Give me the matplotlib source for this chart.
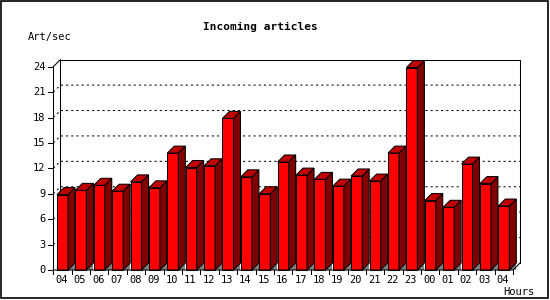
import matplotlib
matplotlib.use("Agg")
import matplotlib.pyplot as plt
from matplotlib.patches import Polygon, Rectangle

# hourly incoming article rate
hours = ["04", "05", "06", "07", "08", "09", "10", "11", "12", "13", "14", "15", "16",
         "17", "18", "19", "20", "21", "22", "23", "00", "01", "02", "03", "04"]
rates = [8.9, 9.4, 10.0, 9.3, 10.4, 9.7, 13.8, 12.1, 12.3, 17.9, 11.0, 9.0, 12.75,
         11.2, 10.7, 9.9, 11.1, 10.5, 13.8, 23.9, 8.2, 7.4, 12.5, 10.2, 7.55]
yticks = [0, 3, 6, 9, 12, 15, 18, 21, 24]

W, H = 550, 300
fig = plt.figure(figsize=(W / 100, H / 100), dpi=100)
fig.patch.set_facecolor("white")

# plot area in pixels: x 53..513, y 270..66.7
x0, x1, ybot, ytop = 53.3, 513.0, 270.0, 66.7
ax = fig.add_axes([x0 / W, (H - ybot) / H, (x1 - x0) / W, (ybot - ytop) / H])
n = len(hours)
ymax = 24
ax.set_xlim(0, n)
ax.set_ylim(0, ymax)
ax.axis("off")

px_x = n / (x1 - x0)
px_y = ymax / (ybot - ytop)
dx, dy = 7 * px_x, 7 * px_y
lw = 0.75
mono = "DejaVu Sans Mono"

# dotted gridlines on the back wall
for v in yticks[1:-1]:
    ax.plot([0, dx, n + dx], [v, v + dy, v + dy], color="black", lw=lw,
            ls=(0, (2, 3)), clip_on=False, zorder=1)

# back wall frame
ax.plot([dx, dx, n + dx, n + dx], [dy, ymax + dy, ymax + dy, dy], color="black",
        lw=lw, clip_on=False, zorder=1)
ax.plot([0, dx], [ymax, ymax + dy], color="black", lw=lw, clip_on=False, zorder=1)

# bars
bw = 11 * px_x
for i, v in enumerate(rates):
    l = i + 0.5 - bw / 2
    r = l + bw
    ax.add_patch(Polygon([(r, 0), (r + dx, 0), (r + dx, dy)], closed=True,
                         facecolor="#808080", edgecolor="none", zorder=2, clip_on=False))
    ax.add_patch(Polygon([(l, 0), (r, 0), (r, v), (l, v)], closed=True,
                         facecolor="#ff0000", edgecolor="black", lw=lw, zorder=3, clip_on=False))
    ax.add_patch(Polygon([(r, 0), (r + dx, dy), (r + dx, v + dy), (r, v)], closed=True,
                         facecolor="#800000", edgecolor="black", lw=lw, zorder=3, clip_on=False))
    ax.add_patch(Polygon([(l, v), (r, v), (r + dx, v + dy), (l + dx, v + dy)], closed=True,
                         facecolor="#c00000", edgecolor="black", lw=lw, zorder=3, clip_on=False))

# front axes
ax.plot([0, 0], [0, ymax], color="black", lw=lw, clip_on=False, zorder=4)
ax.plot([0, n, n + dx], [0, 0, dy], color="black", lw=lw, clip_on=False, zorder=4)
for v in yticks:
    ax.plot([-5 * px_x, 0], [v, v], color="black", lw=lw, clip_on=False, zorder=4)
    ax.text(-8 * px_x, v, str(v), ha="right", va="center", fontsize=7.5,
            family=mono, clip_on=False)
for i in range(n + 1):
    ax.plot([i, i], [0, -4 * px_y], color="black", lw=lw, clip_on=False, zorder=4)
for i, h in enumerate(hours):
    ax.text(i + 0.45, -10 * px_y, h, ha="center", va="center", fontsize=7.5,
            family=mono, clip_on=False)

fig.text(260 / W, 1 - 27 / H, "Incoming articles", ha="center", va="center",
         fontsize=8, fontweight="bold", family=mono)
fig.text(28 / W, 1 - 37 / H, "Art/sec", ha="left", va="center", fontsize=7.5, family=mono)
fig.text(535 / W, 1 - 292 / H, "Hours", ha="right", va="center", fontsize=7.5, family=mono)

# image frame
fig.patches.append(Rectangle((0.5 / W, 2 / H), 547 / W, 297.5 / H, transform=fig.transFigure,
                             fill=False, edgecolor="black", lw=1.2, joinstyle="miter"))

fig.savefig("out.png", dpi=100, facecolor="white")
